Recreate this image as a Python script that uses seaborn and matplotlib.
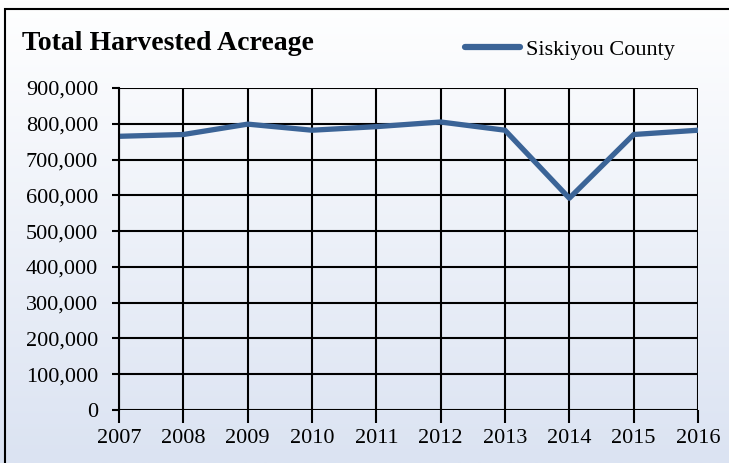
import numpy as np
import pandas as pd
import matplotlib.pyplot as plt
import seaborn as sns
from matplotlib.colors import LinearSegmentedColormap
from matplotlib.patches import Rectangle
from matplotlib.ticker import FuncFormatter

years = [2007, 2008, 2009, 2010, 2011, 2012, 2013, 2014, 2015, 2016]
acreage = [765000, 770000, 799000, 782000, 792000, 805000, 782000, 592000, 770000, 782000]

df = pd.DataFrame({'Year': years, 'Acreage': acreage})

sns.set_style('white')
plt.rcParams['font.family'] = ['Liberation Serif', 'DejaVu Serif']
plt.rcParams['text.color'] = 'black'
plt.rcParams['xtick.color'] = 'black'
plt.rcParams['ytick.color'] = 'black'

fig = plt.figure(figsize=(7.29, 4.63), dpi=100)

# gradient background
bg = fig.add_axes([0, 0, 1, 1], zorder=-10)
cmap = LinearSegmentedColormap.from_list('bg', ['#ffffff', '#dbe3f2'])
bg.imshow(np.linspace(0, 1, 256).reshape(-1, 1), aspect='auto', cmap=cmap,
          extent=[0, 1, 0, 1], origin='upper')
bg.add_patch(Rectangle((5 / 729, -0.1), 1.0, 1 - 9 / 463 + 0.1, fill=False,
                       edgecolor='black', linewidth=1.5, transform=bg.transAxes))
bg.set_xlim(0, 1)
bg.set_ylim(0, 1)
bg.axis('off')

ax = fig.add_axes([119 / 729, 1 - 410 / 463, (698 - 119) / 729, (410 - 88) / 463])
ax.patch.set_alpha(0)

sns.lineplot(data=df, x='Year', y='Acreage', ax=ax, color='#3b6497',
             linewidth=3.8, label='Siskiyou County', solid_capstyle='round')

ax.set_xlim(2007, 2016)
ax.set_ylim(0, 900000)
ax.set_xticks(years)
ax.set_yticks(np.arange(0, 900001, 100000))
ax.yaxis.set_major_formatter(FuncFormatter(lambda v, p: f'{int(v):,}'))
ax.grid(True, color='black', linewidth=1.5)
ax.set_axisbelow(True)
for s in ax.spines.values():
    s.set_visible(False)
ax.spines['left'].set_visible(True)
ax.spines['left'].set_linewidth(1.5)
ax.spines['left'].set_color('black')
ax.tick_params(axis='x', direction='out', length=9, width=1.5, color='black',
               labelsize=16, pad=5, bottom=True)
ax.tick_params(axis='y', direction='out', length=5, width=1.5, color='black',
               labelsize=16, pad=10, left=True)
ax.set_xlabel('')
ax.set_ylabel('')

leg = ax.legend(loc='center right', bbox_to_anchor=(0.96, 1.12), frameon=False,
                fontsize=16, handlelength=2.5, handletextpad=0.25,
                borderaxespad=0, borderpad=0)
leg.get_lines()[0].set_linewidth(4.5)

fig.text(22 / 729, 1 - 43 / 463, 'Total Harvested Acreage', fontsize=20,
         fontweight='bold', va='center', ha='left')

fig.savefig('out.png', dpi=100)
